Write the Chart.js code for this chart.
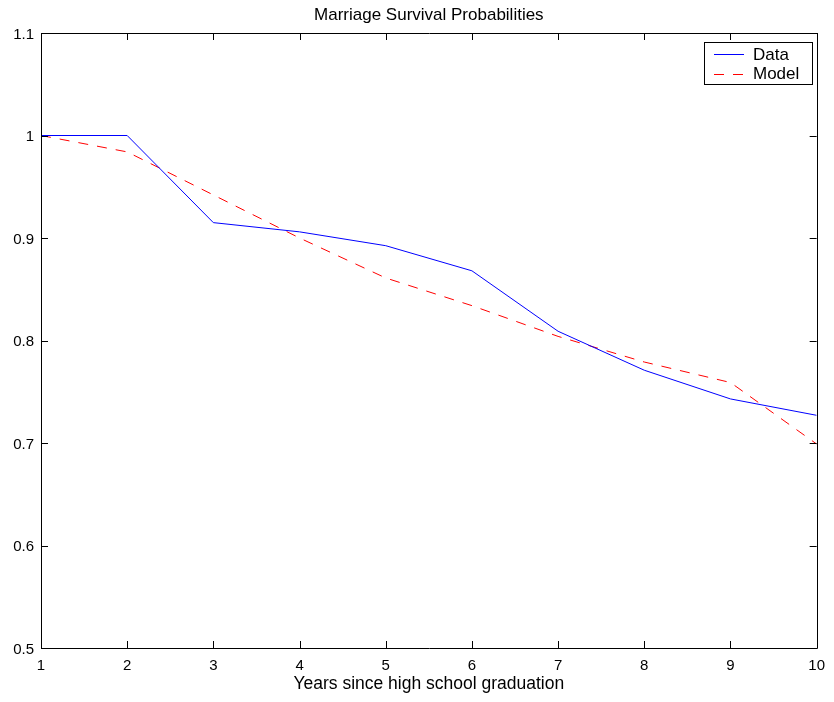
<!DOCTYPE html>
<html>
<head>
<meta charset="utf-8">
<script src="https://cdn.jsdelivr.net/npm/chart.js@4.4.1/dist/chart.umd.min.js"></script>
<style>
html,body{margin:0;padding:0;background:#fff;}
#wrap{width:834px;height:702px;}
</style>
</head>
<body>
<div id="wrap"><canvas id="c" width="834" height="702"></canvas></div>
<script>
const chartTitle = "Marriage Survival Probabilities";
const xAxisTitle = "Years since high school graduation";
const years = [1, 2, 3, 4, 5, 6, 7, 8, 9, 10];
const dataSeries = [1.0, 1.0, 0.915, 0.906, 0.8925, 0.868, 0.809, 0.771, 0.743, 0.727];
const modelSeries = [1.0, 0.984, 0.942, 0.900, 0.861, 0.834, 0.804, 0.779, 0.759, 0.699];
const seriesNames = ["Data", "Model"];
const yTicks = [0.5, 0.6, 0.7, 0.8, 0.9, 1, 1.1];

const FONT = "'Liberation Sans', Arial, Helvetica, sans-serif";
const TICKLEN = 7;

const boxPlugin = {
  id: 'boxTicks',
  afterDatasetsDraw(chart) {
    const ctx = chart.ctx;
    const a = chart.chartArea;
    const xs = chart.scales.x, ys = chart.scales.y;
    ctx.save();
    ctx.strokeStyle = '#000';
    ctx.lineWidth = 1;
    ctx.beginPath();
    ctx.rect(Math.round(a.left) + 0.5, Math.round(a.top) + 0.5, Math.round(a.right - a.left), Math.round(a.bottom - a.top));
    ctx.stroke();
    ctx.beginPath();
    xs.ticks.forEach(t => {
      const px = Math.round(xs.getPixelForValue(t.value)) + 0.5;
      ctx.moveTo(px, a.bottom); ctx.lineTo(px, a.bottom - TICKLEN);
      ctx.moveTo(px, a.top); ctx.lineTo(px, a.top + TICKLEN);
    });
    ys.ticks.forEach(t => {
      const py = Math.round(ys.getPixelForValue(t.value)) + 0.5;
      ctx.moveTo(a.left, py); ctx.lineTo(a.left + TICKLEN, py);
      ctx.moveTo(a.right, py); ctx.lineTo(a.right - TICKLEN, py);
    });
    ctx.stroke();

    // title centred over the plot box
    ctx.fillStyle = '#000';
    ctx.font = "17px " + FONT;
    ctx.textAlign = 'center';
    ctx.textBaseline = 'middle';
    ctx.fillText(chartTitle, (a.left + a.right) / 2, 15);

    // legend
    const bx = 704.5, by = 42.5, bw = 108, bh = 42;
    ctx.fillStyle = '#fff';
    ctx.fillRect(bx, by, bw, bh);
    ctx.strokeStyle = '#000';
    ctx.strokeRect(bx, by, bw, bh);
    ctx.font = "17px " + FONT;
    ctx.textBaseline = 'middle';
    ctx.textAlign = 'left';
    chart.data.datasets.forEach((ds, i) => {
      const ly = 54 + i * 19.5;
      ctx.beginPath();
      ctx.strokeStyle = ds.borderColor;
      ctx.lineWidth = 1;
      ctx.setLineDash(ds.borderDash || []);
      ctx.moveTo(714, Math.round(ly) + 0.5);
      ctx.lineTo(744, Math.round(ly) + 0.5);
      ctx.stroke();
      ctx.setLineDash([]);
      ctx.fillStyle = '#000';
      ctx.fillText(ds.label, 753, ly + 1);
    });
    ctx.restore();
  }
};

new Chart(document.getElementById('c'), {
  type: 'line',
  data: {
    datasets: [
      {
        label: seriesNames[0],
        data: years.map((x, i) => ({x: x, y: dataSeries[i]})),
        borderColor: '#0000ff',
        borderWidth: 1,
        pointRadius: 0,
        tension: 0,
        fill: false
      },
      {
        label: seriesNames[1],
        data: years.map((x, i) => ({x: x, y: modelSeries[i]})),
        borderColor: '#ff0000',
        borderWidth: 1,
        borderDash: [10, 9],
        pointRadius: 0,
        tension: 0,
        fill: false
      }
    ]
  },
  options: {
    responsive: false,
    animation: false,
    devicePixelRatio: 1,
    layout: { padding: { left: 0, right: 14, top: 33, bottom: 0 } },
    plugins: {
      legend: { display: false },
      tooltip: { enabled: false },
      title: { display: false }
    },
    scales: {
      x: {
        type: 'linear',
        min: 1, max: 10,
        afterFit(s) { s.height = 54; },
        afterBuildTicks(s) { s.ticks = years.map(v => ({value: v})); },
        grid: { display: false, drawTicks: false },
        border: { display: false },
        ticks: {
          color: '#000',
          font: { family: FONT, size: 15 },
          padding: 9,
          maxRotation: 0,
          autoSkip: false
        },
        title: {
          display: true,
          text: xAxisTitle,
          color: '#000',
          font: { family: FONT, size: 17.5 },
          padding: { top: 0, bottom: 7 }
        }
      },
      y: {
        min: 0.5, max: 1.1,
        afterFit(s) { s.width = 41; },
        afterBuildTicks(s) { s.ticks = yTicks.map(v => ({value: v})); },
        grid: { display: false, drawTicks: false },
        border: { display: false },
        ticks: {
          color: '#000',
          font: { family: FONT, size: 15 },
          padding: 7,
          labelOffset: 1.5,
          autoSkip: false,
          callback: v => String(Math.round(v * 10) / 10)
        }
      }
    }
  },
  plugins: [boxPlugin]
});
</script>
</body>
</html>
